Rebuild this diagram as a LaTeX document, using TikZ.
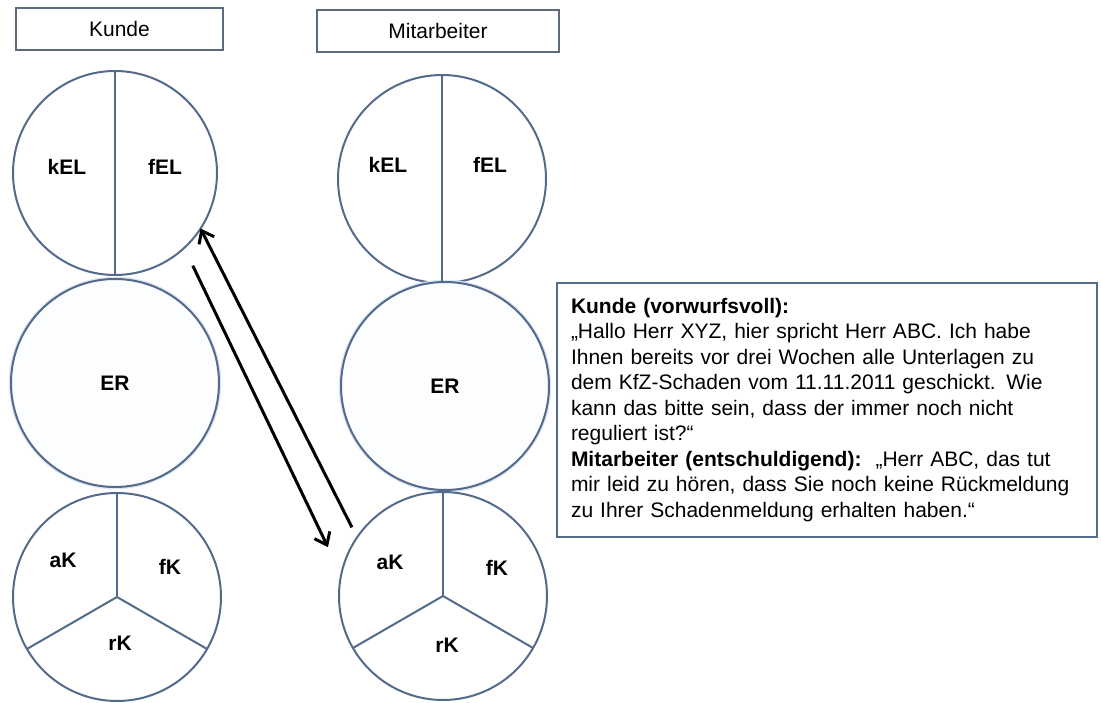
\documentclass[tikz,border=0pt]{standalone}
\usepackage{fontspec}
\setmainfont{Liberation Sans}
\usetikzlibrary{arrows.meta,calc}

\definecolor{ringblue}{RGB}{84,106,138}
\definecolor{boxgray}{RGB}{92,106,128}
\definecolor{haloblue}{RGB}{218,230,246}
\definecolor{erfill}{RGB}{252,253,255}

\begin{document}
\begin{tikzpicture}[x=1pt,y=1pt,
    every node/.style={font=\fontsize{21}{25.5}\selectfont},
    ring/.style={circle, draw=ringblue, line width=2pt, minimum size=#1,
        inner sep=0pt, outer sep=0pt},
    ring/.default=208pt,
    rim/.style={ringblue, line width=2pt},
    role/.style={draw=boxgray, line width=2.5pt, fill=white,
        minimum height=42pt, inner sep=0pt, outer sep=0pt},
    part/.style={font=\fontsize{21}{25.5}\selectfont\bfseries},
    flow/.style={line width=3pt, -{Straight Barb[length=11pt,width=17pt]}}
]
    \useasboundingbox (0,0) rectangle (1101,702);

    % the two roles
    \node[role, minimum width=207pt] (kunde) at (119.5,673) {Kunde};
    \node[role, minimum width=242pt] (mitarb) at (438,671) {Mitarbeiter};

    % Kunde column
    \node[ring=204pt] (kuEL) at (115,529) {};
    \node[ring, fill=erfill, preaction={draw=haloblue, line width=4.5pt}]
        (kuER) at (115,319) {\bfseries ER};
    \node[ring] (kuK) at (117,105) {};

    % Mitarbeiter column
    \node[ring] (maEL) at (442,523) {};
    \node[ring, fill=erfill, preaction={draw=haloblue, line width=4.5pt}]
        (maER) at (445,316) {\bfseries ER};
    \node[ring] (maK) at (443,106) {};

    % split the circles
    \foreach \c in {ku,ma}
    {
        \draw[rim] (\c EL.north) -- (\c EL.south);
        \foreach \a in {90,210,330}
            \draw[rim] (\c K.center) -- (\c K.\a);
    }

    \node[part] (kuKel) at (67,535) {kEL};
    \node[part] (kuFel) at (165,535) {fEL};
    \node[part] (maKel) at (388,537) {kEL};
    \node[part] (maFel) at (490,537) {fEL};

    \node[part] (kuAk) at (63,142) {aK};
    \node[part] (kuFk) at (170,135) {fK};
    \node[part] (kuRk) at (120,59) {rK};
    \node[part] (maAk) at (390,140) {aK};
    \node[part] (maFk) at (497,134) {fK};
    \node[part] (maRk) at (447,57) {rK};

    % back and forth
    \coordinate (upfoot) at ($(maK.center)+(143:114pt)$);
    \coordinate (downfoot) at ($(kuEL.center)+(-50:121pt)$);
    \coordinate (downtip) at ($(maK.center)+(157:125pt)$);
    \draw[flow] (upfoot) -- (kuEL.-33);
    \draw[flow] (downfoot) -- (downtip);

    % the dialogue
    \node[draw=ringblue, line width=2.5pt, minimum width=540pt,
        minimum height=254pt, text width=512pt, inner xsep=14pt,
        align=left] (dialog) at (827,292)
    {\textbf{Kunde (vorwurfsvoll):}\\
     „Hallo Herr XYZ, hier spricht Herr ABC. Ich habe\\
     Ihnen bereits vor drei Wochen alle Unterlagen zu\\
     dem KfZ-Schaden vom 11.11.2011 geschickt. Wie\\
     kann das bitte sein, dass der immer noch nicht\\
     reguliert ist?“\\
     \textbf{Mitarbeiter (entschuldigend):}\ \ „Herr ABC, das tut\\
     mir leid zu hören, dass Sie noch keine Rückmeldung\\
     zu Ihrer Schadenmeldung erhalten haben.“};

\end{tikzpicture}
\end{document}
